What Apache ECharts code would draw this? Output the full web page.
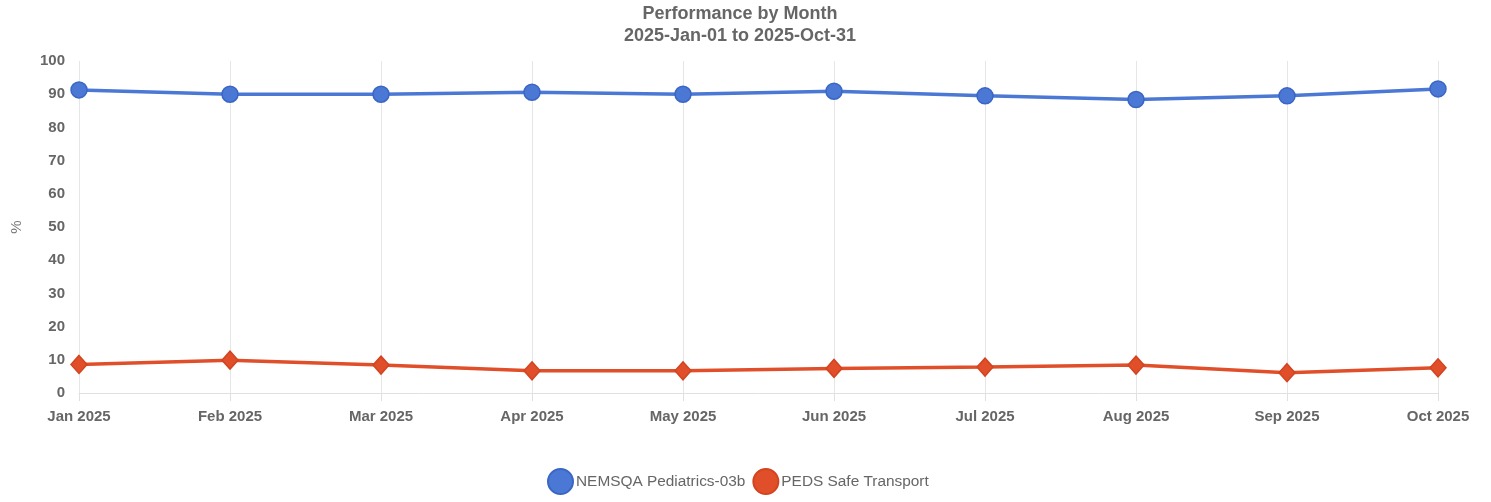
<!DOCTYPE html>
<html>
<head>
<meta charset="utf-8">
<script src="https://cdn.jsdelivr.net/npm/echarts@6/dist/echarts.min.js"></script>
<style>
html,body{margin:0;padding:0;background:#fff;}
#chart{width:1491px;height:502px;}
</style>
</head>
<body>
<div id="chart"></div>
<script>
const categories = ['Jan 2025','Feb 2025','Mar 2025','Apr 2025','May 2025','Jun 2025','Jul 2025','Aug 2025','Sep 2025','Oct 2025'];
const nemsqaValues = [91.3, 90.0, 90.0, 90.6, 90.0, 90.9, 89.5, 88.4, 89.5, 91.6];
const pedsValues = [8.6, 9.9, 8.4, 6.7, 6.7, 7.4, 7.8, 8.4, 6.1, 7.6];
const seriesNames = ['NEMSQA Pediatrics-03b', 'PEDS Safe Transport'];

const chart = echarts.init(document.getElementById('chart'));
const font = '"Liberation Sans", Arial, sans-serif';
chart.setOption({
  animation: false,
  backgroundColor: '#fff',
  title: {
    text: 'Performance by Month\n2025-Jan-01 to 2025-Oct-31',
    left: 740,
    textAlign: 'center',
    top: 3,
    padding: 0,
    textStyle: { fontFamily: font, fontSize: 18, fontWeight: 'bold', color: '#666', lineHeight: 22 }
  },
  legend: {
    bottom: 7,
    left: 547,
    padding: 0,
    itemWidth: 25,
    itemHeight: 25,
    itemGap: 7,
    icon: 'circle',
    textStyle: { fontFamily: font, fontSize: 15.4, color: '#666', padding: [0,0,0,-2] },
    data: seriesNames
  },
  grid: { left: 79, right: 53, top: 61, bottom: 109, containLabel: false },
  xAxis: {
    type: 'category',
    data: categories,
    boundaryGap: false,
    axisLine: { show: true, lineStyle: { color: '#e0e0e0' } },
    axisTick: { show: true, length: 8, lineStyle: { color: '#e0e0e0' } },
    axisLabel: { fontFamily: font, fontSize: 15, fontWeight: 'bold', color: '#666', margin: 16 },
    splitLine: { show: true, lineStyle: { color: '#e6e6e6' } }
  },
  yAxis: {
    type: 'value',
    min: 0, max: 100, interval: 10,
    name: '%',
    nameLocation: 'middle',
    nameGap: 55,
    nameRotate: 90,
    nameTextStyle: { fontFamily: font, fontSize: 15, color: '#777' },
    axisLine: { show: false },
    axisTick: { show: false },
    splitLine: { show: false },
    axisLabel: { fontFamily: font, fontSize: 15, fontWeight: 'bold', color: '#666', margin: 14 }
  },
  series: [
    {
      name: seriesNames[0],
      type: 'line',
      data: nemsqaValues,
      symbol: 'circle',
      symbolSize: 16,
      lineStyle: { width: 3.5, color: '#4a78d4' },
      itemStyle: { color: '#4a78d4', borderColor: '#3a66c4', borderWidth: 1.5 }
    },
    {
      name: seriesNames[1],
      type: 'line',
      data: pedsValues,
      symbol: 'diamond',
      symbolSize: [16, 18],
      lineStyle: { width: 3.5, color: '#e04f2a' },
      itemStyle: { color: '#e04f2a', borderColor: '#d24420', borderWidth: 1.5 }
    }
  ]
});
</script>
</body>
</html>
